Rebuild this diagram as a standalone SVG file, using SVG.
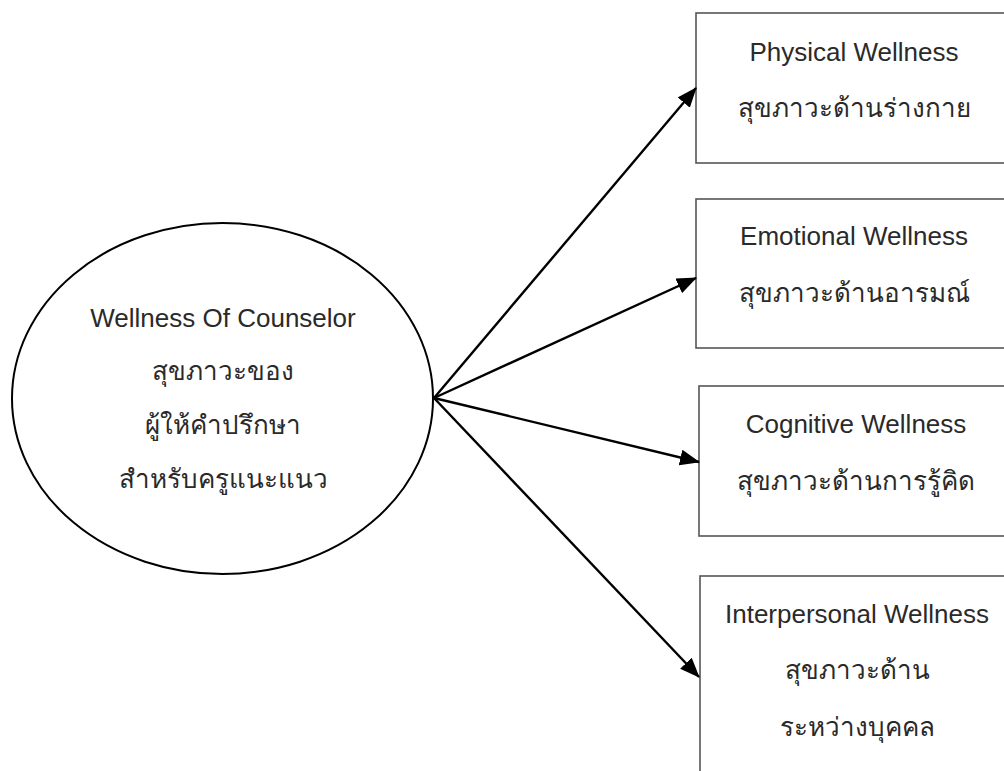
<svg xmlns="http://www.w3.org/2000/svg" width="1004" height="771" viewBox="0 0 1004 771">
  <style>
    .bg { fill: #ffffff; }
    .oval { fill: #ffffff; stroke: #000000; stroke-width: 2; }
    .box { fill: #ffffff; stroke: #555555; stroke-width: 1.6; }
    .lbl { font-family: "Liberation Sans", "Noto Sans", "DejaVu Sans", sans-serif; font-size: 26px; fill: #2a2a2a; text-anchor: middle; }
    .edge { stroke: #000000; stroke-width: 2.4; fill: none; marker-end: url(#head); }
  </style>
  <defs>
    <marker id="head" markerUnits="userSpaceOnUse" markerWidth="20" markerHeight="16" viewBox="0 0 20 16" refX="19" refY="8" orient="auto">
      <path d="M0,0 L20,8 L0,16 z" fill="#000000"/>
    </marker>
  </defs>
  <rect class="bg" x="0" y="0" width="1004" height="771"/>

  <!-- central concept -->
  <g id="node-counselor">
    <ellipse class="oval" cx="222.5" cy="398.5" rx="210.5" ry="175.5"/>
    <text class="lbl" x="223" y="327">Wellness Of Counselor</text>
    <text class="lbl" x="223" y="380">สุขภาวะของ</text>
    <text class="lbl" x="223" y="434">ผู้ให้คำปรึกษา</text>
    <text class="lbl" x="223" y="488">สำหรับครูแนะแนว</text>
  </g>

  <!-- wellness dimensions -->
  <g id="node-physical">
    <rect class="box" x="696" y="13" width="318" height="150"/>
    <text class="lbl" x="854" y="61">Physical Wellness</text>
    <text class="lbl" x="854" y="117">สุขภาวะด้านร่างกาย</text>
  </g>
  <g id="node-emotional">
    <rect class="box" x="696" y="199" width="318" height="149"/>
    <text class="lbl" x="854" y="245">Emotional Wellness</text>
    <text class="lbl" x="854" y="302">สุขภาวะด้านอารมณ์</text>
  </g>
  <g id="node-cognitive">
    <rect class="box" x="699" y="386" width="318" height="150"/>
    <text class="lbl" x="856" y="433">Cognitive Wellness</text>
    <text class="lbl" x="856" y="490">สุขภาวะด้านการรู้คิด</text>
  </g>
  <g id="node-interpersonal">
    <rect class="box" x="700" y="576" width="318" height="220"/>
    <text class="lbl" x="857" y="623">Interpersonal Wellness</text>
    <text class="lbl" x="857" y="679">สุขภาวะด้าน</text>
    <text class="lbl" x="857" y="736">ระหว่างบุคคล</text>
  </g>

  <!-- connectors -->
  <g id="connectors">
    <line class="edge" x1="434" y1="398" x2="696" y2="88"/>
    <line class="edge" x1="434" y1="398" x2="696" y2="278"/>
    <line class="edge" x1="434" y1="398" x2="699" y2="462"/>
    <line class="edge" x1="434" y1="398" x2="699" y2="677"/>
  </g>
</svg>
